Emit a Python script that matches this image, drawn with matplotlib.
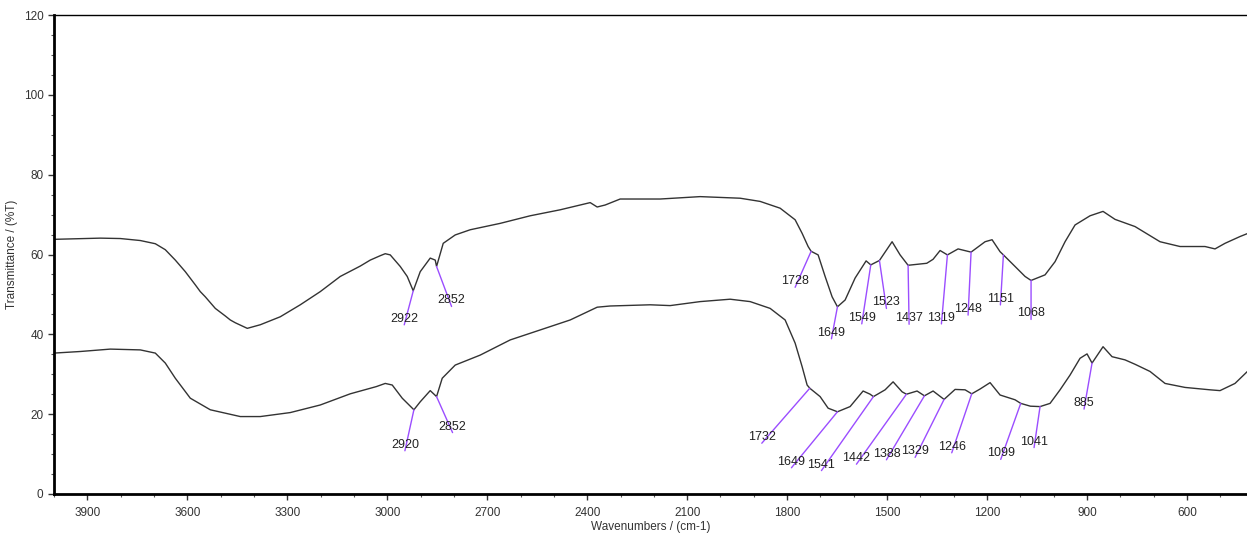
import numpy as np
import matplotlib.pyplot as plt
from matplotlib.ticker import MultipleLocator

plt.rcParams['font.family'] = ['Liberation Sans', 'DejaVu Sans']

# Espectro superior (número de onda, %T)
wn_a = [4000, 3861, 3801, 3741, 3696, 3666, 3651, 3636, 3606, 3576, 3561, 3546,
        3516, 3486, 3471, 3456, 3420, 3381, 3321, 3261, 3201, 3141, 3081, 3051,
        3021, 3006, 2991, 2961, 2940, 2922, 2901, 2871, 2856, 2852, 2832, 2796,
        2751, 2661, 2571, 2481, 2391, 2370, 2346, 2301, 2181, 2061, 1941, 1881,
        1821, 1776, 1755, 1737, 1728, 1707, 1686, 1665, 1649, 1626, 1596, 1563,
        1549, 1523, 1485, 1461, 1437, 1381, 1362, 1341, 1319, 1287, 1248, 1206,
        1185, 1161, 1151, 1116, 1086, 1068, 1026, 996, 966, 936, 891, 852, 816,
        756, 681, 621, 546, 516, 486, 441, 420]
t_a = [63.8, 64.1, 64.0, 63.5, 62.7, 61.2, 59.9, 58.6, 55.7, 52.4, 50.7, 49.4,
       46.5, 44.6, 43.6, 42.9, 41.5, 42.4, 44.4, 47.4, 50.7, 54.5, 57.1, 58.6,
       59.7, 60.2, 59.9, 57.0, 54.5, 50.9, 55.7, 59.1, 58.6, 57.0, 62.8, 64.9,
       66.2, 67.8, 69.7, 71.2, 73.0, 71.9, 72.4, 73.9, 73.9, 74.5, 74.1, 73.3,
       71.6, 68.7, 65.3, 62.0, 60.8, 59.9, 54.5, 49.4, 46.9, 48.6, 54.1, 58.4,
       57.4, 58.5, 63.2, 59.9, 57.3, 57.8, 58.8, 61.0, 59.9, 61.4, 60.6, 63.2,
       63.7, 60.7, 59.9, 57.0, 54.5, 53.5, 54.9, 58.2, 63.2, 67.4, 69.7, 70.8,
       68.8, 67.0, 63.2, 62.0, 62.0, 61.4, 62.8, 64.5, 65.2]

# Espectro inferior
wn_b = [4000, 3921, 3831, 3741, 3696, 3666, 3636, 3591, 3531, 3441, 3381, 3291,
        3201, 3111, 3033, 3006, 2985, 2955, 2920, 2901, 2871, 2852, 2835, 2796,
        2721, 2631, 2541, 2451, 2370, 2331, 2211, 2151, 2061, 1971, 1911, 1851,
        1806, 1776, 1755, 1740, 1732, 1701, 1677, 1649, 1611, 1572, 1551, 1541,
        1506, 1482, 1455, 1442, 1410, 1388, 1362, 1329, 1296, 1266, 1246, 1221,
        1191, 1161, 1116, 1099, 1070, 1041, 1011, 981, 951, 921, 900, 885, 852,
        825, 786, 756, 711, 666, 606, 531, 501, 456, 420]
t_b = [35.3, 35.7, 36.3, 36.1, 35.3, 32.8, 29.0, 24.0, 21.1, 19.4, 19.4, 20.4,
       22.3, 25.1, 26.9, 27.7, 27.3, 24.0, 21.1, 23.1, 25.9, 24.4, 29.0, 32.3,
       34.8, 38.6, 41.1, 43.6, 46.8, 47.1, 47.4, 47.2, 48.2, 48.8, 48.2, 46.5,
       43.6, 37.8, 31.9, 27.3, 26.5, 24.4, 21.5, 20.6, 21.9, 25.8, 25.0, 24.4,
       26.1, 28.1, 25.6, 25.0, 25.8, 24.6, 25.8, 23.7, 26.2, 26.1, 25.1, 26.3,
       27.9, 24.8, 23.6, 22.7, 22.0, 21.9, 22.7, 26.1, 29.8, 34.0, 35.1, 32.8,
       36.9, 34.4, 33.6, 32.5, 30.7, 27.7, 26.7, 26.1, 25.9, 27.7, 30.6]

# Picos marcados
peaks_a = [2922, 2852, 1728, 1649, 1549, 1523, 1437, 1319, 1248, 1151, 1068]
peaks_b = [2920, 2852, 1732, 1649, 1541, 1442, 1388, 1329, 1246, 1099, 1041, 885]

# Desplazamiento de cada etiqueta respecto al pico (pixeles)
offs_a = [(-9, -28), (15, -34), (-16, -30), (-6, -26), (-9, -53), (7, -42),
          (1, -53), (-6, -63), (-3, -57), (-3, -44), (0, -33)]
offs_b = [(-9, -35), (16, -30), (-48, -49), (-46, -50), (-52, -68), (-50, -64),
          (-38, -58), (-29, -52), (-20, -53), (-20, -50), (-6, -35), (-8, -40)]

W, H = 1247, 533
fig = plt.figure(figsize=(W / 100, H / 100), dpi=100)
ax = fig.add_axes([54 / W, 39 / H, 1 - 54 / W, 479 / H])

ax.plot(wn_a, t_a, color='#333333', lw=1.0)
ax.plot(wn_b, t_b, color='#333333', lw=1.0)

pcolor = '#9b4dff'

def etiquetas(ax, wn, t, peaks, offs):
    x = np.array(wn)[::-1]
    y = np.array(t)[::-1]
    for p, (dx, dy) in zip(peaks, offs):
        yp = np.interp(p, x, y)
        ax.annotate(str(p), xy=(p, yp), xytext=(dx, dy), textcoords='offset pixels',
                    ha='center', va='center', fontsize=9, color='#222222',
                    arrowprops=dict(arrowstyle='-', color=pcolor, lw=1.0,
                                    shrinkA=0, shrinkB=0, patchA=None,
                                    relpos=(0.5, 0.0)))

etiquetas(ax, wn_a, t_a, peaks_a, offs_a)
etiquetas(ax, wn_b, t_b, peaks_b, offs_b)

ax.set_xlim(4000, 420)
ax.set_ylim(0, 120)
ax.set_xticks(np.arange(3900, 500, -300))
ax.xaxis.set_minor_locator(MultipleLocator(100))
ax.set_yticks(np.arange(0, 121, 20))
ax.yaxis.set_minor_locator(MultipleLocator(5))
ax.tick_params(which='major', direction='out', length=4, width=1, labelsize=8.5,
               colors='#333333')
ax.tick_params(which='minor', direction='out', length=2, width=0.8, colors='#555555')
ax.tick_params(axis='x', pad=5)

ax.spines['left'].set_linewidth(2)
ax.spines['bottom'].set_linewidth(2)
ax.spines['top'].set_linewidth(1)
ax.spines['right'].set_visible(False)

ax.set_xlabel('Wavenumbers / (cm-1)', fontsize=8.5, color='#333333', labelpad=2)
ax.set_ylabel('Transmittance / (%T)', fontsize=8.5, color='#333333', labelpad=4)

fig.savefig('out.png', dpi=100)
